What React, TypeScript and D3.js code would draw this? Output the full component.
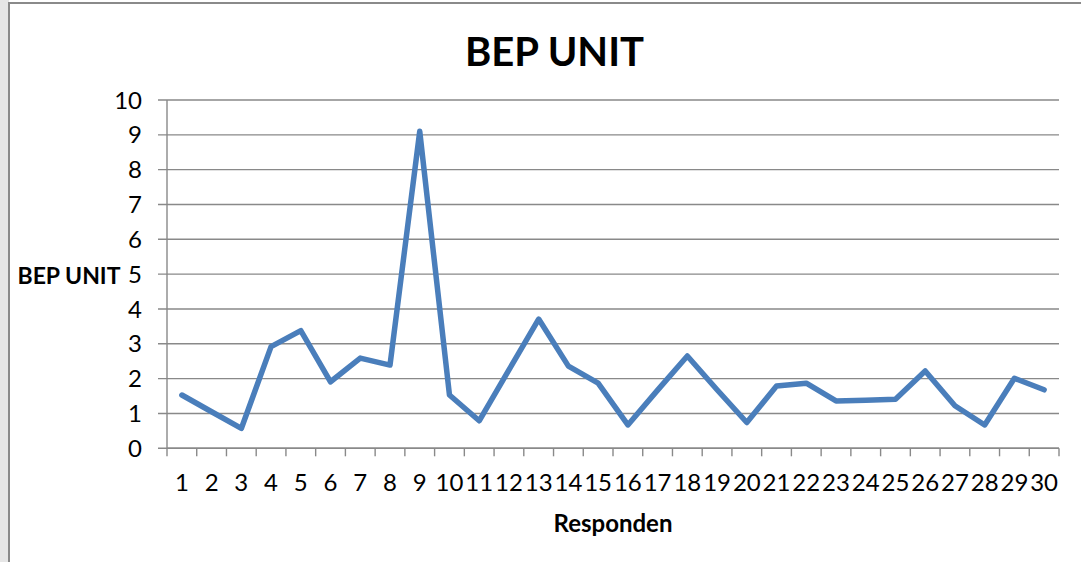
import React from 'react';
import * as d3 from 'd3';

// respondent numbers and BEP unit values
const responden = d3.range(1, 31).map(String);
const bepUnit = [
  1.53, 1.05, 0.57, 2.92, 3.38, 1.91, 2.59, 2.39, 9.1, 1.53,
  0.79, 2.25, 3.71, 2.36, 1.87, 0.67, 1.67, 2.65, 1.68, 0.74,
  1.79, 1.87, 1.36, 1.38, 1.41, 2.22, 1.22, 0.67, 2.01, 1.68,
];
const yTicks = d3.range(0, 11);

const W = 1081;
const H = 562;
const left = 167;
const right = 1059;
const top = 100;
const bottom = 448.3;
const font = 'Lato, "Open Sans", sans-serif';
const gridColor = '#898989';

const App = () => {
  const x = d3.scaleBand<string>().domain(responden).range([left, right]).padding(0);
  const y = d3.scaleLinear().domain([0, 10]).range([bottom, top]);

  const line = d3
    .line<number>()
    .x((_, i) => (x(responden[i]) as number) + x.bandwidth() / 2)
    .y((d) => y(d));

  const boundaries = d3.range(0, responden.length + 1).map((i) => left + i * x.bandwidth());

  return (
    <svg
      width={W}
      height={H}
      style={{ position: 'absolute', left: 0, top: 0, background: '#fff' }}
    >
      {/* faint strip left of the chart frame */}
      <rect x={0} y={0} width={9} height={H} fill="#e6e6e6" />
      <rect x={9} y={3} width={W + 10} height={H + 10} fill="#fff" stroke="#8a8a8a" strokeWidth={2} />

      <text
        x={(465 + 644) / 2}
        y={66}
        textAnchor="middle"
        fontFamily={font}
        fontWeight="bold"
        fontSize={40}
        fill="#000"
      >
        BEP UNIT
      </text>

      {/* gridlines + y ticks */}
      {yTicks.map((t) => (
        <g key={t}>
          <line x1={left - 9} x2={right} y1={y(t)} y2={y(t)} stroke={gridColor} strokeWidth={1.4} />
          <text
            x={142}
            y={y(t)}
            dy="0.36em"
            textAnchor="end"
            fontFamily={font}
            fontSize={24}
            fill="#000"
          >
            {t}
          </text>
        </g>
      ))}

      {/* axes */}
      <line x1={left} x2={left} y1={top} y2={bottom} stroke={gridColor} strokeWidth={1.4} />
      <line x1={left} x2={right} y1={bottom} y2={bottom} stroke={gridColor} strokeWidth={1.4} />
      {boundaries.map((bx, i) => (
        <line key={i} x1={bx} x2={bx} y1={bottom} y2={bottom + 8} stroke={gridColor} strokeWidth={1.4} />
      ))}
      {responden.map((r) => (
        <text
          key={r}
          x={(x(r) as number) + x.bandwidth() / 2}
          y={491}
          textAnchor="middle"
          fontFamily={font}
          fontSize={24}
          fill="#000"
        >
          {r}
        </text>
      ))}

      <text x={69} y={276} dy="0.36em" textAnchor="middle" fontFamily={font} fontWeight="bold" fontSize={23} fill="#000">
        BEP UNIT
      </text>
      <text x={613} y={532} textAnchor="middle" fontFamily={font} fontWeight="bold" fontSize={24} fill="#000">
        Responden
      </text>

      <path
        d={line(bepUnit) || ''}
        fill="none"
        stroke="#4a7ebb"
        strokeWidth={5.5}
        strokeLinejoin="round"
        strokeLinecap="round"
      />
    </svg>
  );
};

export default App;
